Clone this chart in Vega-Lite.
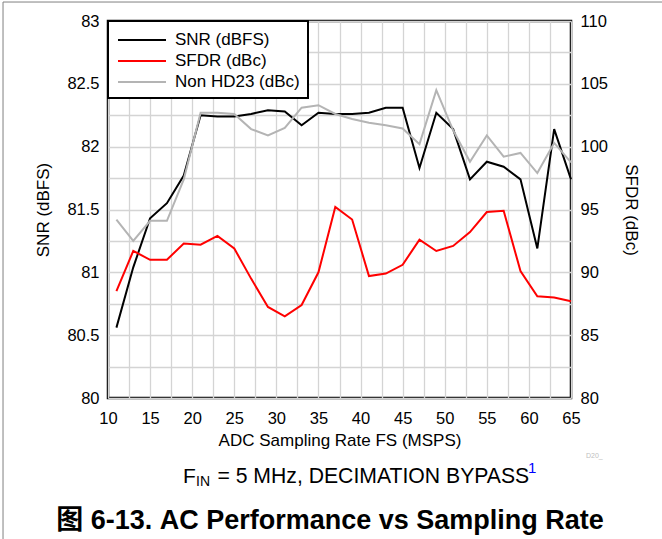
{
  "$schema": "https://vega.github.io/schema/vega-lite/v6.json",
  "width": 463,
  "height": 377,
  "autosize": {"type": "none"},
  "padding": {"left": 108, "top": 21, "right": 91, "bottom": 141},
  "background": "white",
  "config": {
    "view": {"stroke": "black", "strokeWidth": 2.5},
    "font": "Liberation Sans",
    "legend": {"strokeWidth": 2},
    "axis": {
      "domain": false, "ticks": false, "tickSize": 0,
      "labelFont": "Liberation Sans", "labelFontSize": 16.5, "labelColor": "black",
      "titleFont": "Liberation Sans", "titleFontSize": 17, "titleFontWeight": "normal", "titleColor": "black",
      "gridColor": "#d4d4d4", "gridWidth": 1.3, "labelOverlap": false, "labelBound": false, "labelFlush": false
    }
  },
  "data": {"values": [
    {"x": 11, "series": "SNR (dBFS)", "v": 80.56}, {"x": 13, "series": "SNR (dBFS)", "v": 81.04},
    {"x": 15, "series": "SNR (dBFS)", "v": 81.43}, {"x": 17, "series": "SNR (dBFS)", "v": 81.55},
    {"x": 19, "series": "SNR (dBFS)", "v": 81.77}, {"x": 21, "series": "SNR (dBFS)", "v": 82.25},
    {"x": 23, "series": "SNR (dBFS)", "v": 82.24}, {"x": 25, "series": "SNR (dBFS)", "v": 82.24},
    {"x": 27, "series": "SNR (dBFS)", "v": 82.26}, {"x": 29, "series": "SNR (dBFS)", "v": 82.29},
    {"x": 31, "series": "SNR (dBFS)", "v": 82.28}, {"x": 33, "series": "SNR (dBFS)", "v": 82.17},
    {"x": 35, "series": "SNR (dBFS)", "v": 82.27}, {"x": 37, "series": "SNR (dBFS)", "v": 82.26},
    {"x": 39, "series": "SNR (dBFS)", "v": 82.26}, {"x": 41, "series": "SNR (dBFS)", "v": 82.27},
    {"x": 43, "series": "SNR (dBFS)", "v": 82.31}, {"x": 45, "series": "SNR (dBFS)", "v": 82.31},
    {"x": 47, "series": "SNR (dBFS)", "v": 81.83}, {"x": 49, "series": "SNR (dBFS)", "v": 82.27},
    {"x": 51, "series": "SNR (dBFS)", "v": 82.14}, {"x": 53, "series": "SNR (dBFS)", "v": 81.74},
    {"x": 55, "series": "SNR (dBFS)", "v": 81.88}, {"x": 57, "series": "SNR (dBFS)", "v": 81.84},
    {"x": 59, "series": "SNR (dBFS)", "v": 81.74}, {"x": 61, "series": "SNR (dBFS)", "v": 81.19},
    {"x": 63, "series": "SNR (dBFS)", "v": 82.14}, {"x": 65, "series": "SNR (dBFS)", "v": 81.74},
    {"x": 11, "series": "SFDR (dBc)", "v": 88.5}, {"x": 13, "series": "SFDR (dBc)", "v": 91.7},
    {"x": 15, "series": "SFDR (dBc)", "v": 91.0}, {"x": 17, "series": "SFDR (dBc)", "v": 91.0},
    {"x": 19, "series": "SFDR (dBc)", "v": 92.3}, {"x": 21, "series": "SFDR (dBc)", "v": 92.2},
    {"x": 23, "series": "SFDR (dBc)", "v": 92.9}, {"x": 25, "series": "SFDR (dBc)", "v": 91.9},
    {"x": 27, "series": "SFDR (dBc)", "v": 89.5}, {"x": 29, "series": "SFDR (dBc)", "v": 87.25},
    {"x": 31, "series": "SFDR (dBc)", "v": 86.5}, {"x": 33, "series": "SFDR (dBc)", "v": 87.4},
    {"x": 35, "series": "SFDR (dBc)", "v": 90.0}, {"x": 37, "series": "SFDR (dBc)", "v": 95.2},
    {"x": 39, "series": "SFDR (dBc)", "v": 94.2}, {"x": 41, "series": "SFDR (dBc)", "v": 89.7},
    {"x": 43, "series": "SFDR (dBc)", "v": 89.9}, {"x": 45, "series": "SFDR (dBc)", "v": 90.6},
    {"x": 47, "series": "SFDR (dBc)", "v": 92.6}, {"x": 49, "series": "SFDR (dBc)", "v": 91.7},
    {"x": 51, "series": "SFDR (dBc)", "v": 92.1}, {"x": 53, "series": "SFDR (dBc)", "v": 93.2},
    {"x": 55, "series": "SFDR (dBc)", "v": 94.8}, {"x": 57, "series": "SFDR (dBc)", "v": 94.9},
    {"x": 59, "series": "SFDR (dBc)", "v": 90.1}, {"x": 61, "series": "SFDR (dBc)", "v": 88.1},
    {"x": 63, "series": "SFDR (dBc)", "v": 88.0}, {"x": 65, "series": "SFDR (dBc)", "v": 87.7},
    {"x": 11, "series": "Non HD23 (dBc)", "v": 94.2}, {"x": 13, "series": "Non HD23 (dBc)", "v": 92.5},
    {"x": 15, "series": "Non HD23 (dBc)", "v": 94.1}, {"x": 17, "series": "Non HD23 (dBc)", "v": 94.1},
    {"x": 19, "series": "Non HD23 (dBc)", "v": 97.4}, {"x": 21, "series": "Non HD23 (dBc)", "v": 102.7},
    {"x": 23, "series": "Non HD23 (dBc)", "v": 102.7}, {"x": 25, "series": "Non HD23 (dBc)", "v": 102.6},
    {"x": 27, "series": "Non HD23 (dBc)", "v": 101.4}, {"x": 29, "series": "Non HD23 (dBc)", "v": 100.9},
    {"x": 31, "series": "Non HD23 (dBc)", "v": 101.5}, {"x": 33, "series": "Non HD23 (dBc)", "v": 103.1},
    {"x": 35, "series": "Non HD23 (dBc)", "v": 103.3}, {"x": 37, "series": "Non HD23 (dBc)", "v": 102.6},
    {"x": 39, "series": "Non HD23 (dBc)", "v": 102.2}, {"x": 41, "series": "Non HD23 (dBc)", "v": 101.9},
    {"x": 43, "series": "Non HD23 (dBc)", "v": 101.7}, {"x": 45, "series": "Non HD23 (dBc)", "v": 101.45},
    {"x": 47, "series": "Non HD23 (dBc)", "v": 100.2}, {"x": 49, "series": "Non HD23 (dBc)", "v": 104.5},
    {"x": 51, "series": "Non HD23 (dBc)", "v": 101.3}, {"x": 53, "series": "Non HD23 (dBc)", "v": 98.8},
    {"x": 55, "series": "Non HD23 (dBc)", "v": 100.9}, {"x": 57, "series": "Non HD23 (dBc)", "v": 99.2},
    {"x": 59, "series": "Non HD23 (dBc)", "v": 99.5}, {"x": 61, "series": "Non HD23 (dBc)", "v": 97.9},
    {"x": 63, "series": "Non HD23 (dBc)", "v": 100.3}, {"x": 65, "series": "Non HD23 (dBc)", "v": 98.75}
  ]},
  "layer": [
    {
      "layer": [
        {
          "transform": [{"filter": "datum.series === 'SNR (dBFS)'"}],
          "mark": {"type": "line", "strokeWidth": 2},
          "encoding": {
            "x": {
              "field": "x", "type": "quantitative",
              "scale": {"domain": [10, 65], "nice": false, "zero": false},
              "axis": {
                "values": [10, 12.5, 15, 17.5, 20, 22.5, 25, 27.5, 30, 32.5, 35, 37.5, 40, 42.5, 45, 47.5, 50, 52.5, 55, 57.5, 60, 62.5, 65],
                "labelExpr": "datum.value % 5 === 0 ? '' + datum.value : ''",
                "title": "ADC Sampling Rate FS (MSPS)",
                "labelPadding": 12, "titlePadding": 6, "grid": true
              }
            },
            "y": {
              "field": "v", "type": "quantitative",
              "scale": {"domain": [80, 83], "nice": false, "zero": false},
              "axis": {
                "values": [80, 80.25, 80.5, 80.75, 81, 81.25, 81.5, 81.75, 82, 82.25, 82.5, 82.75, 83],
                "labelExpr": "datum.value % 0.5 === 0 ? '' + datum.value : ''",
                "title": "SNR (dBFS)",
                "labelPadding": 9, "titlePadding": 14, "grid": true
              }
            },
            "color": {
              "field": "series", "type": "nominal",
              "scale": {"domain": ["SNR (dBFS)", "SFDR (dBc)", "Non HD23 (dBc)"], "range": ["#000000", "#ff0000", "#b4b4b4"]},
              "legend": {
                "title": null, "orient": "top-left", "offset": 0, "padding": 8,
                "strokeColor": "black", "fillColor": "white",
                "labelFontSize": 17, "labelFont": "Liberation Sans", "labelColor": "black", "labelLimit": 300,
                "symbolType": "M-2.4,0H2.4", "symbolSize": 400, "symbolStrokeWidth": 2,
                "symbolOffset": 15, "labelOffset": 22, "rowPadding": 2
              }
            }
          }
        },
        {
          "data": {"values": [{}]},
          "mark": {"type": "text", "text": "F", "align": "left", "baseline": "alphabetic", "fontSize": 21, "font": "Liberation Sans", "color": "black"},
          "encoding": {
            "x": {"datum": 18.91, "type": "quantitative", "scale": {"domain": [10, 65], "nice": false, "zero": false}, "axis": null},
            "y": {"datum": 79.321, "type": "quantitative", "scale": {"domain": [80, 83], "nice": false, "zero": false}, "axis": null}
          }
        },
        {
          "data": {"values": [{}]},
          "mark": {"type": "text", "text": "IN", "align": "left", "baseline": "alphabetic", "fontSize": 14, "font": "Liberation Sans", "color": "black"},
          "encoding": {
            "x": {"datum": 20.454, "type": "quantitative", "scale": {"domain": [10, 65], "nice": false, "zero": false}, "axis": null},
            "y": {"datum": 79.3, "type": "quantitative", "scale": {"domain": [80, 83], "nice": false, "zero": false}, "axis": null}
          }
        },
        {
          "data": {"values": [{}]},
          "mark": {"type": "text", "text": "= 5 MHz, DECIMATION BYPASS", "align": "left", "baseline": "alphabetic", "fontSize": 21.2, "font": "Liberation Sans", "color": "black"},
          "encoding": {
            "x": {"datum": 23.0, "type": "quantitative", "scale": {"domain": [10, 65], "nice": false, "zero": false}, "axis": null},
            "y": {"datum": 79.321, "type": "quantitative", "scale": {"domain": [80, 83], "nice": false, "zero": false}, "axis": null}
          }
        },
        {
          "data": {"values": [{}]},
          "mark": {"type": "text", "text": "1", "align": "left", "baseline": "alphabetic", "fontSize": 15, "font": "Liberation Sans", "color": "#0000ff"},
          "encoding": {
            "x": {"datum": 59.893, "type": "quantitative", "scale": {"domain": [10, 65], "nice": false, "zero": false}, "axis": null},
            "y": {"datum": 79.403, "type": "quantitative", "scale": {"domain": [80, 83], "nice": false, "zero": false}, "axis": null}
          }
        },
        {
          "data": {"values": [{}]},
          "mark": {"type": "text", "text": "D20_", "align": "left", "baseline": "alphabetic", "fontSize": 7, "font": "Liberation Sans", "color": "#c0c0c0"},
          "encoding": {
            "x": {"datum": 66.78, "type": "quantitative", "scale": {"domain": [10, 65], "nice": false, "zero": false}, "axis": null},
            "y": {"datum": 79.523, "type": "quantitative", "scale": {"domain": [80, 83], "nice": false, "zero": false}, "axis": null}
          }
        },
        {
          "data": {"values": [{}]},
          "mark": {"type": "text", "text": "图 6-13. AC Performance vs Sampling Rate", "align": "center", "baseline": "alphabetic", "fontSize": 27, "fontWeight": "bold", "font": "Liberation Sans, Noto Sans CJK SC", "color": "black"},
          "encoding": {
            "x": {"datum": 36.372, "type": "quantitative", "scale": {"domain": [10, 65], "nice": false, "zero": false}, "axis": null},
            "y": {"datum": 78.958, "type": "quantitative", "scale": {"domain": [80, 83], "nice": false, "zero": false}, "axis": null}
          }
        },
        {
          "data": {"values": [{}]},
          "mark": {"type": "rule", "color": "#808080", "strokeWidth": 1},
          "encoding": {
            "x": {"datum": -2.47, "type": "quantitative", "scale": {"domain": [10, 65], "nice": false, "zero": false}, "axis": null},
            "x2": {"datum": 76},
            "y": {"datum": 83.151, "type": "quantitative", "scale": {"domain": [80, 83], "nice": false, "zero": false}, "axis": null}
          }
        },
        {
          "data": {"values": [{}]},
          "mark": {"type": "rule", "color": "#808080", "strokeWidth": 1},
          "encoding": {
            "x": {"datum": -2.47, "type": "quantitative", "scale": {"domain": [10, 65], "nice": false, "zero": false}, "axis": null},
            "y": {"datum": 83.151, "type": "quantitative", "scale": {"domain": [80, 83], "nice": false, "zero": false}, "axis": null},
            "y2": {"datum": 78.6}
          }
        }
      ],
      "resolve": {"axis": {"x": "independent", "y": "independent"}}
    },
    {
      "transform": [{"filter": "datum.series !== 'SNR (dBFS)'"}],
      "mark": {"type": "line", "strokeWidth": 2},
      "encoding": {
        "x": {"field": "x", "type": "quantitative", "scale": {"domain": [10, 65], "nice": false, "zero": false}, "axis": null},
        "y": {
          "field": "v", "type": "quantitative",
          "scale": {"domain": [80, 110], "nice": false, "zero": false},
          "axis": {
            "orient": "right", "values": [80, 85, 90, 95, 100, 105, 110],
            "title": "SFDR (dBc)", "grid": false, "labelPadding": 9, "titlePadding": 14
          }
        },
        "color": {
          "field": "series", "type": "nominal",
          "scale": {"domain": ["SNR (dBFS)", "SFDR (dBc)", "Non HD23 (dBc)"], "range": ["#000000", "#ff0000", "#b4b4b4"]},
          "legend": {
            "title": null, "orient": "top-left", "offset": 0, "padding": 8,
            "strokeColor": "black", "fillColor": "white",
            "labelFontSize": 17, "labelFont": "Liberation Sans", "labelColor": "black", "labelLimit": 300,
            "symbolType": "M-2.4,0H2.4", "symbolSize": 400, "symbolStrokeWidth": 2,
            "symbolOffset": 15, "labelOffset": 22, "rowPadding": 2
          }
        }
      }
    }
  ],
  "resolve": {"scale": {"y": "independent"}, "axis": {"x": "independent", "y": "independent"}}
}
